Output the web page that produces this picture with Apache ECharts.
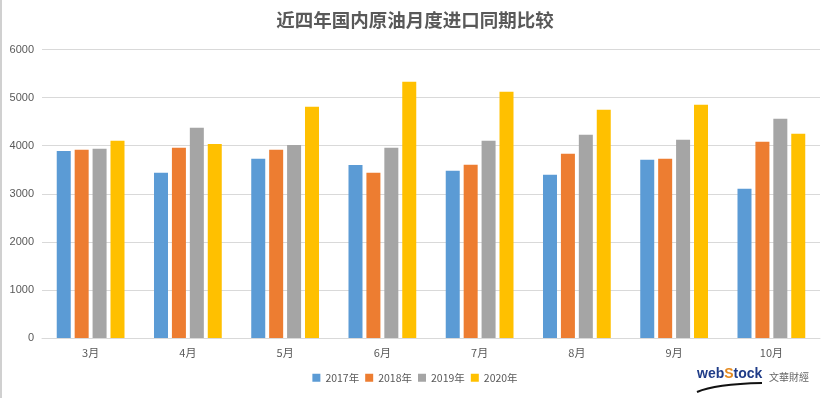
<!DOCTYPE html>
<html><head><meta charset="utf-8">
<script src="https://cdn.jsdelivr.net/npm/echarts@6/dist/echarts.min.js"></script>
<style>html,body{margin:0;padding:0;background:#fff}#c{width:830px;height:398px}</style>
</head><body><div id="c"></div>
<script>
const categories = ['3月','4月','5月','6月','7月','8月','9月','10月'];
const s2017 = [3890,3437,3728,3597,3479,3396,3708,3105];
const s2018 = [3915,3957,3915,3437,3604,3832,3728,4082];
const s2019 = [3936,4373,4012,3957,4102,4227,4123,4560];
const s2020 = [4102,4033,4809,5329,5121,4747,4851,4248];
const seriesNames = ['2017年','2018年','2019年','2020年'];
const colors = ['#5b9bd5','#ed7d31','#a5a5a5','#ffc000'];
const yTicks = {min:0,max:6000,interval:1000};

const chart = echarts.init(document.getElementById('c'));
const data = [s2017,s2018,s2019,s2020];
chart.setOption({
  animation:false,
  backgroundColor:'#fff',
  title:{text:'近四年国内原油月度进口同期比较',left:'center',top:6,
    textStyle:{fontFamily:'Noto Sans CJK SC',fontSize:18.5,fontWeight:'bold',color:'#595959'}},
  legend:{bottom:10,left:'center',itemWidth:8,itemHeight:8,itemGap:6,icon:'rect',
    textStyle:{fontFamily:'Noto Sans CJK SC',fontSize:10.5,color:'#595959'},data:seriesNames},
  grid:{left:42,right:10,top:49.5,bottom:60,containLabel:false},
  xAxis:{type:'category',data:categories,
    axisLine:{lineStyle:{color:'#d9d9d9'}},axisTick:{show:false},
    axisLabel:{fontFamily:'Noto Sans CJK SC',fontSize:11,color:'#595959',margin:9}},
  yAxis:{type:'value',min:yTicks.min,max:yTicks.max,interval:yTicks.interval,
    axisLine:{show:false},axisTick:{show:false},
    axisLabel:{fontFamily:'Liberation Sans',fontSize:11,color:'#595959',margin:8,formatter:function(v){return String(v);}},
    splitLine:{lineStyle:{color:'#d9d9d9'}}},
  color:colors,
  series:seriesNames.map((n,i)=>({name:n,type:'bar',data:data[i],barWidth:14,barGap:'28%',
    itemStyle:{color:colors[i]}})),
  graphic:[
    {type:'line',shape:{x1:1,y1:0,x2:1,y2:398},style:{stroke:'#d0d0d0',lineWidth:2}},
    {type:'bezierCurve',shape:{x1:697,y1:392,cpx1:715,cpy1:384,x2:762,y2:383},style:{stroke:'#111',lineWidth:2,fill:null}},
    {type:'text',left:697,top:367,style:{text:'{a|web}{b|S}{a|tock}',
      rich:{a:{fontFamily:'Liberation Sans',fontSize:14,fontWeight:'bold',fill:'#1f3c88'},
            b:{fontFamily:'Liberation Sans',fontSize:14,fontWeight:'bold',fill:'#e58a1f'}}}},
    {type:'text',left:769,top:372,style:{text:'文華財經',fontFamily:'Noto Sans CJK TC',fontSize:10,fill:'#666'}}
  ]
});
</script></body></html>
